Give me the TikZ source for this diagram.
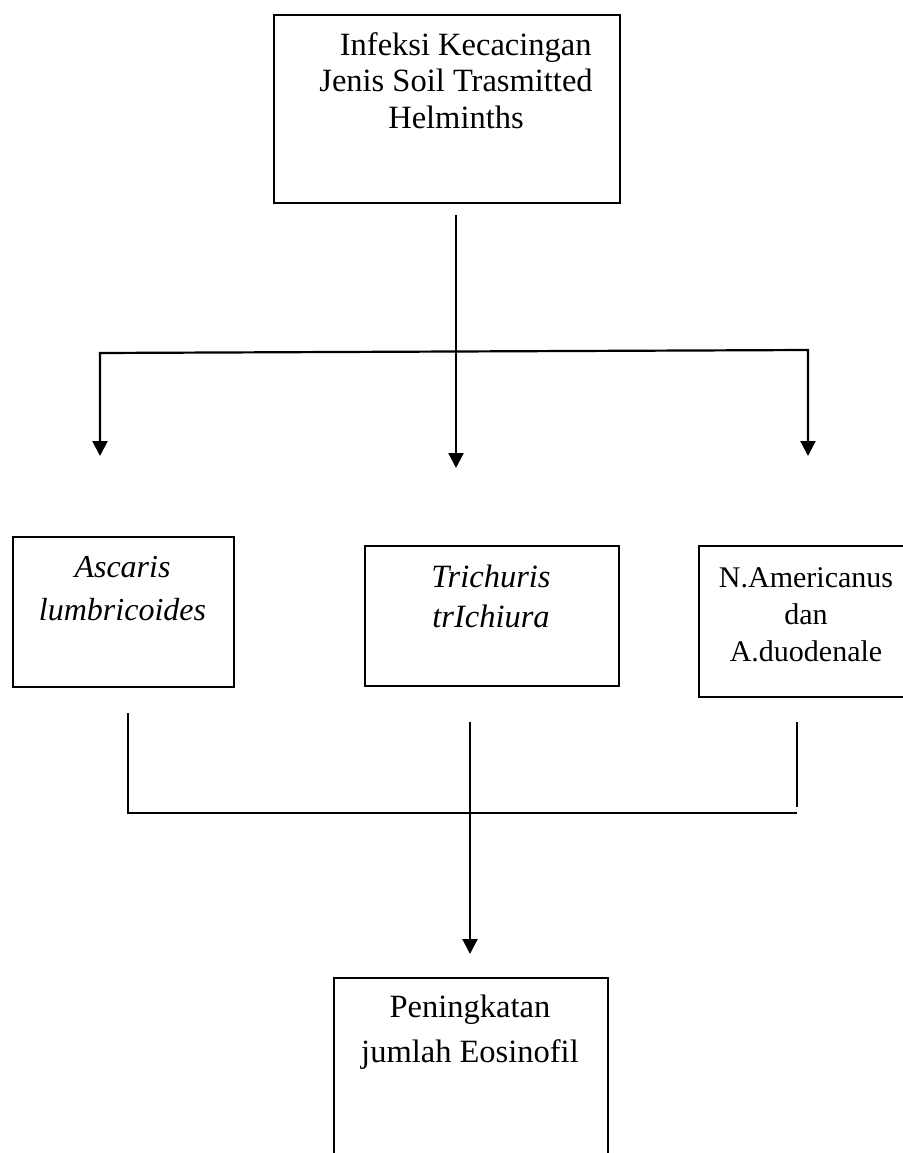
\documentclass[tikz,border=0pt]{standalone}
\usepackage{fontspec}
\setmainfont{Liberation Serif}
\usetikzlibrary{arrows.meta,positioning}

\begin{document}
\begin{tikzpicture}[x=1pt,y=-1pt,
	kotak/.style={draw, line width=2pt, anchor=north west, inner sep=0pt},
	teks/.style={anchor=north, align=center, inner sep=0pt, font=\fontsize{32.5}{#1}\selectfont},
	teks/.default=37,
	garis/.style={line width=2.2pt},
	panah/.style={line width=2.2pt, -{Triangle[width=15pt,length=15pt]}},
	cabang/.style={line width=2.2pt, {Triangle[width=15pt,length=15pt]}-{Triangle[width=15pt,length=15pt]}}]
			\useasboundingbox (0,0) rectangle (902,1153);
			% kotak-kotak
			\node[kotak, minimum width=346pt, minimum height=188pt] (infeksi) at (273,14) {};
			\node[kotak, minimum width=221pt, minimum height=150pt] (ascaris) at (12,536) {};
			\node[kotak, minimum width=254pt, minimum height=140pt] (trichuris) at (364,545) {};
			\node[kotak, minimum width=220pt, minimum height=151pt] (cacing) at (698,545) {};
			\node[kotak, minimum width=274pt, minimum height=200pt] (eosinofil) at (333,977) {};
			% teks
			\node[teks=36.5] (tinfeksi) at (456,32) {\hspace*{0.6em}Infeksi Kecacingan\\Jenis Soil Trasmitted\\Helminths};
			\node[teks, font=\fontsize{32}{43}\selectfont\itshape] (tascaris) at (122.5,556) {Ascaris\\lumbricoides};
			\node[teks, font=\fontsize{32.5}{40}\selectfont\itshape] (ttrichuris) at (491,565) {Trichuris\\trIchiura};
			\node[teks, font=\fontsize{30}{37}\selectfont] (tcacing) at (806,567) {N.Americanus\\dan\\A.duodenale};
			\node[teks=45] (teosinofil) at (470,995) {Peningkatan\\jumlah Eosinofil};
			% panah atas
			\coordinate (a1) at (456,215);
			\coordinate (a2) at (456,468);
			\coordinate (k1) at (100,353);
			\coordinate (k2) at (808,350);
			\coordinate (k1b) at (100,456);
			\coordinate (k2b) at (808,456);
			\draw[panah] (a1)--(a2);
			\draw[cabang] (k1b)--(k1)--(k2)--(k2b);
			% panah bawah
			\coordinate (b1) at (128,713);
			\coordinate (b2) at (128,813);
			\coordinate (b3) at (797,813);
			\coordinate (b4) at (797,722);
			\coordinate (b5) at (797,807);
			\coordinate (m1) at (470,722);
			\coordinate (m2) at (470,954);
			\draw[garis] (b1)--(b2)--(b3);
			\draw[garis] (b4)--(b5);
			\draw[panah] (m1)--(m2);
\end{tikzpicture}
\end{document}
